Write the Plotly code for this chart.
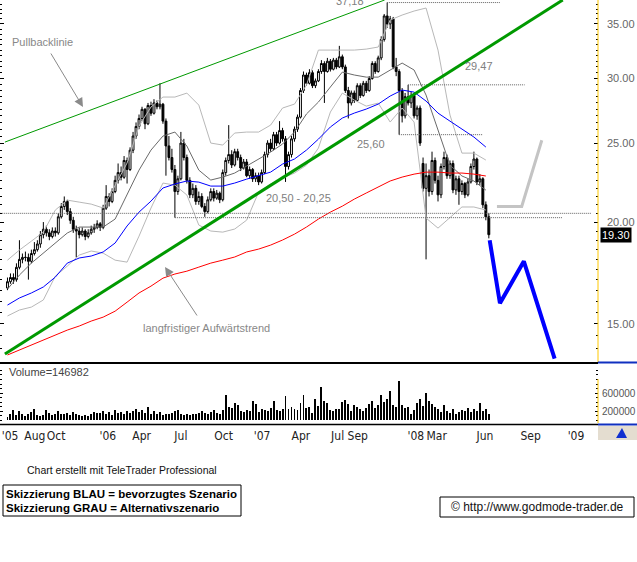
import math
import pandas as pd
import plotly.graph_objects as go

# ---------------- data ----------------
week_start = "2005-05-13"   # weekly candles
opens = [16.6,16.9,17.1,17.0,17.6,18.0,18.1,18.1,17.9,18.3,
         18.5,18.8,19.3,19.6,19.4,19.2,19.5,19.4,20.3,20.9,
         21.2,20.6,20.1,19.6,19.5,19.3,19.5,19.2,19.4,19.6,
         19.7,19.9,19.7,20.8,21.5,21.2,21.8,22.5,23.0,22.7,
         23.8,23.2,24.5,25.5,26.2,26.8,27.5,26.4,27.8,27.2,
         28.0,27.7,27.9,26.6,24.8,24.0,23.2,21.8,22.6,25.0,
         24.0,22.5,21.6,22.0,21.2,21.5,20.9,20.6,21.3,21.8,
         21.4,21.7,21.3,23.0,23.8,24.2,23.5,24.4,24.0,23.3,
         23.7,22.8,23.2,22.6,22.8,22.4,23.0,24.2,25.0,24.6,
         25.6,25.0,25.9,25.3,23.4,24.2,25.3,26.0,26.9,29.0,
         30.3,29.6,30.5,29.4,29.8,30.6,31.3,30.6,31.5,30.8,
         31.6,31.0,31.9,31.0,29.0,28.0,28.8,28.2,29.4,28.6,
         29.6,29.0,30.0,31.3,30.6,31.8,33.5,35.8,35.0,35.5,
         31.0,30.6,29.0,27.0,28.5,28.0,28.6,27.0,27.6,23.6,
         22.0,22.8,21.8,23.8,22.5,21.6,23.4,24.0,22.8,23.6,
         21.9,22.6,21.8,22.3,21.6,22.4,23.4,23.9,22.4,22.6,
         21.0,20.3]
highs = [17.1,17.3,17.3,17.8,19.0,18.3,18.4,18.3,18.5,18.9,
         19.0,19.5,20.0,19.8,19.6,19.7,19.7,20.5,21.1,21.5,
         21.3,20.8,20.3,19.8,19.7,19.7,19.6,19.6,19.8,19.9,
         20.1,20.0,21.0,22.2,21.7,22.0,22.8,23.6,23.4,24.1,
         24.0,24.7,25.8,26.5,27.1,27.7,27.6,28.0,28.1,28.3,
         28.2,29.6,28.0,26.8,25.5,24.6,23.5,22.8,25.8,25.3,
         24.2,22.7,22.3,22.2,21.8,21.7,21.1,21.5,22.0,22.0,
         21.9,21.8,23.2,24.0,26.3,24.5,24.6,24.6,24.2,23.9,
         23.9,23.4,23.3,23.0,23.0,23.2,24.4,25.2,25.3,25.8,
         25.8,26.6,26.1,25.5,24.4,25.5,26.2,27.1,29.2,30.6,
         30.5,30.8,30.7,30.0,30.8,31.6,31.5,31.8,31.7,31.8,
         31.8,32.9,32.1,31.2,29.3,29.0,29.0,29.6,29.6,29.8,
         29.8,30.2,31.5,31.5,32.0,33.8,36.0,37.18,35.8,35.7,
         31.8,30.8,29.2,28.8,29.47,28.9,28.8,27.8,27.8,24.0,
         23.6,23.2,24.4,24.0,22.8,23.6,24.4,24.2,23.8,23.8,
         22.8,22.8,22.5,22.4,22.6,23.6,24.4,24.0,22.9,22.7,
         21.2,20.5]
lows = [16.5,16.8,16.8,16.9,17.5,17.8,17.9,17.0,17.8,18.2,
        18.4,18.6,19.1,19.2,19.0,19.1,19.2,19.3,20.2,20.7,
        20.4,19.9,19.4,18.1,19.1,19.2,19.0,19.1,19.3,19.4,
        19.6,19.5,19.6,20.7,20.9,21.1,21.7,22.3,22.5,22.6,
        22.3,23.1,24.3,25.3,26.0,26.6,26.0,26.3,27.0,27.1,
        27.5,27.5,26.4,22.8,23.8,23.0,20.25,21.6,22.5,23.8,
        22.3,21.4,21.4,21.0,21.0,20.8,20.3,20.5,21.2,21.2,
        21.3,21.1,21.2,22.8,23.6,23.3,23.4,23.8,23.1,23.2,
        22.7,22.6,22.4,22.4,22.2,22.3,22.9,24.0,24.4,24.5,
        24.8,24.9,25.1,22.4,23.2,24.0,25.1,25.8,26.8,28.8,
        29.4,29.5,29.2,29.2,29.7,30.4,28.0,30.5,30.6,30.7,
        30.8,30.9,30.8,28.8,26.8,27.8,28.0,28.1,28.4,28.5,
        28.8,28.9,29.9,30.4,30.5,31.6,33.3,34.6,34.5,30.8,
        30.2,25.6,26.5,26.8,27.8,27.6,26.8,26.7,24.8,21.8,
        18.0,21.5,21.6,22.3,21.2,21.4,23.2,22.6,22.6,21.7,
        21.6,21.0,21.6,21.4,21.5,22.3,23.2,22.2,22.2,20.8,
        20.1,19.1]
closes = [16.9,17.1,17.0,17.6,18.0,18.1,18.1,17.9,18.3,18.5,
          18.8,19.3,19.6,19.4,19.2,19.5,19.4,20.3,20.9,21.2,
          20.6,20.1,19.6,19.5,19.3,19.5,19.2,19.4,19.6,19.7,
          19.9,19.7,20.8,21.5,21.2,21.8,22.5,23.0,22.7,23.8,
          23.2,24.5,25.5,26.2,26.8,27.5,26.4,27.8,27.2,28.0,
          27.7,27.9,26.6,24.8,24.0,23.2,21.8,22.6,25.0,24.0,
          22.5,21.6,22.0,21.2,21.5,20.9,20.6,21.3,21.8,21.4,
          21.7,21.3,23.0,23.8,24.2,23.5,24.4,24.0,23.3,23.7,
          22.8,23.2,22.6,22.8,22.4,23.0,24.2,25.0,24.6,25.6,
          25.0,25.9,25.3,23.4,24.2,25.3,26.0,26.9,29.0,30.3,
          29.6,30.5,29.4,29.8,30.6,31.3,30.6,31.5,30.8,31.6,
          31.0,31.9,31.0,29.0,28.0,28.8,28.2,29.4,28.6,29.6,
          29.0,30.0,31.3,30.6,31.8,33.5,35.8,35.0,35.5,31.0,
          30.6,29.0,27.0,28.5,28.0,28.6,27.0,27.6,25.0,22.0,
          22.8,21.8,23.8,22.5,21.6,23.4,24.0,22.8,23.6,21.9,
          22.6,21.8,22.3,21.6,22.4,23.4,23.9,22.4,22.6,21.0,
          20.3,19.30]
volumes = [70000,150000,230000,110000,200000,140000,90000,130000,180000,260000,
           120000,100000,110000,220000,160000,120000,150000,210000,130000,140000,
           170000,110000,190000,150000,120000,100000,110000,90000,140000,190000,
           170000,160000,200000,150000,180000,120000,220000,160000,190000,150000,
           210000,170000,200000,260000,180000,230000,160000,290000,150000,200000,
           140000,180000,120000,130000,140000,170000,200000,230000,150000,120000,
           140000,110000,130000,150000,170000,210000,160000,140000,180000,220000,
           160000,150000,230000,570000,300000,280000,380000,340000,200000,190000,
           230000,210000,420000,350000,190000,250000,220000,200000,270000,420000,
           230000,200000,250000,540000,240000,300000,260000,220000,380000,570000,
           280000,300000,160000,460000,310000,730000,430000,380000,230000,210000,
           240000,260000,400000,450000,370000,200000,330000,290000,240000,200000,
           280000,360000,420000,270000,330000,560000,400000,460000,650000,330000,
           300000,870000,340000,280000,300000,150000,220000,380000,480000,320000,
           610000,430000,350000,300000,240000,190000,330000,200000,170000,260000,
           150000,190000,230000,200000,280000,180000,260000,210000,380000,200000,
           250000,146982]

# indicators, sampled every 4th week
ind_step = 4
bb_upper = [17.96,18.48,18.95,19.44,20.69,21.28,21.16,21.04,20.81,22.14,23.63,26.23,27.68,28.47,
            28.47,28.79,27.83,25.00,24.86,25.72,25.79,25.79,26.30,27.60,27.91,29.45,32.51,32.51,
            32.51,32.51,32.60,32.79,35.39,35.89,36.30,36.61,32.51,27.06,24.30,24.30,23.83]
bb_middle = [16.55,17.22,17.81,18.32,18.85,19.39,19.72,19.72,19.72,20.17,21.59,23.16,24.51,25.50,
             25.79,24.79,23.16,22.52,22.71,22.97,23.43,23.90,24.37,24.93,25.79,27.14,28.07,29.29,
             30.55,30.30,30.12,30.12,30.73,31.34,30.73,28.63,25.94,23.49,22.78,22.46,21.89]
bb_lower = [15.34,15.60,15.73,16.05,17.17,17.66,18.22,18.43,18.32,17.96,17.86,19.22,20.81,22.33,
            22.20,21.59,19.83,19.50,19.44,19.61,20.11,21.77,22.27,22.65,22.97,23.49,24.65,27.29,
            28.79,28.23,27.75,27.99,26.53,27.60,26.53,20.23,19.66,20.23,20.87,20.87,20.69]
ma_blue = [15.82,16.14,16.37,16.65,17.12,17.81,18.07,18.17,18.38,18.85,19.78,20.57,21.22,22.02,
           22.27,22.46,22.39,22.14,22.14,22.33,22.58,22.78,23.03,23.56,23.90,24.51,25.28,26.16,
           26.83,27.21,27.52,27.91,28.55,29.04,28.87,28.15,27.21,26.60,26.01,25.43,24.72]
ma_red = [13.74,13.93,14.13,14.33,14.54,14.74,14.91,15.12,15.29,15.55,15.95,16.37,16.69,17.07,
          17.27,17.41,17.61,17.81,17.96,18.12,18.38,18.53,18.74,19.01,19.33,19.72,20.17,20.57,
          20.92,21.34,21.71,22.08,22.46,22.71,22.90,23.03,23.03,22.97,22.97,22.90,22.78]

# drawn lines
trend_long_dates = ["2005-05-07", "2008-12-03"]
trend_long_values = [13.78, 37.45]
pullback_dates = ["2005-05-07", "2007-10-13"]
pullback_values = [25.07, 37.45]

level_values = [37.18, 29.47, 25.60, 20.50, 20.25]
level_starts = ["2007-10-19", "2007-12-07", "2007-11-16", "2005-04-25", "2006-06-09"]
level_ends = ["2008-07-09", "2008-09-05", "2008-05-30", "2009-02-09", "2008-12-03"]

scen_blue_dates = ["2008-06-15", "2008-07-09", "2008-09-03", "2008-11-14"]
scen_blue_values = [19.0, 15.9, 17.9, 13.6]
scen_gray_dates = ["2008-07-02", "2008-08-29", "2008-10-15"]
scen_gray_values = [20.9, 20.9, 25.2]

xtick_dates = ["2005-05-19", "2005-07-16", "2005-09-04", "2006-01-03", "2006-03-23", "2006-06-23",
               "2006-10-01", "2006-12-30", "2007-03-31", "2007-06-25", "2007-08-11", "2007-12-25",
               "2008-02-12", "2008-06-04", "2008-09-19", "2009-01-03"]
xtick_labels = ["'05", "Aug", "Oct", "'06", "Apr", "Jul", "Oct", "'07", "Apr", "Jul", "Sep",
                "'08", "Mar", "Jun", "Sep", "'09"]
price_ticks = [15, 20, 25, 30, 35]
vol_ticks = [200000, 600000]

# ---------------- layout helpers ----------------
W, H = 637, 562
PW = 598  # plot width (right axis area outside)


def px(x):
    return x / PW


def py(y):
    return 1 - y / H


dates = pd.date_range(week_start, periods=len(closes), freq="7D")
ind_dates = dates[::ind_step]
FONT = "Liberation Sans, Arial, sans-serif"
NARROW = "Liberation Sans Narrow, DejaVu Sans Condensed, Arial Narrow, sans-serif"

fig = go.Figure()


def line(xs, ys, color, width=1, dash=None, axis=("x", "y")):
    fig.add_trace(go.Scatter(x=xs, y=ys, mode="lines", xaxis=axis[0], yaxis=axis[1],
                             line=dict(color=color, width=width, dash=dash),
                             hoverinfo="skip", showlegend=False))


line(ind_dates, bb_upper, "#b8b8b8")
line(ind_dates, bb_lower, "#b8b8b8")
line(ind_dates, bb_middle, "#6a6a6a")
line(ind_dates, ma_red, "#ff0000")
line(ind_dates, ma_blue, "#0000ff")

for v, s, e in zip(level_values, level_starts, level_ends):
    line([s, e], [v, v], "#606060", 1, "1px,1px")

fig.add_trace(go.Candlestick(
    x=dates, open=opens, high=highs, low=lows, close=closes,
    increasing=dict(line=dict(color="black", width=1), fillcolor="white"),
    decreasing=dict(line=dict(color="black", width=1), fillcolor="black"),
    whiskerwidth=0, xaxis="x", yaxis="y", showlegend=False, hoverinfo="skip"))

line(pullback_dates, pullback_values, "#009900", 1)
line(trend_long_dates, trend_long_values, "#009900", 3)
line(scen_gray_dates, scen_gray_values, "#c4c4c4", 3)
line(scen_blue_dates, scen_blue_values, "#0000ff", 4)

fig.add_trace(go.Bar(x=dates, y=volumes, width=2.2 * 86400000, xaxis="x2", yaxis="y2",
                     marker=dict(color="black", line=dict(width=0)), showlegend=False,
                     hoverinfo="skip"))

minor_price = [v / 2 for v in range(27, 76) if v % 10 != 0]
minor_vol = list(range(0, 1200001, 100000))

x_range = ["2005-04-25 12:00", "2009-02-23 14:00"]

fig.update_layout(
    width=W, height=H, autosize=False,
    margin=dict(l=0, r=W - PW, t=0, b=0),
    paper_bgcolor="white", plot_bgcolor="white",
    showlegend=False, boxgap=0.1, bargap=0,
    font=dict(family=FONT, color="#333"),
    xaxis=dict(domain=[0, 1], anchor="y", type="date", range=x_range, showticklabels=False,
               ticks="", showgrid=False, zeroline=False, rangeslider=dict(visible=False)),
    xaxis2=dict(domain=[0, 1], anchor="y2", type="date", range=x_range, matches="x",
                tickmode="array", tickvals=xtick_dates, ticktext=xtick_labels, tickangle=0,
                ticks="", showgrid=False, zeroline=False, ticklabelstandoff=3,
                tickfont=dict(family=NARROW, size=12, color="#222")),
    yaxis=dict(domain=[py(362), 1], anchor="x", type="log",
               range=[math.log10(13.47), math.log10(37.45)], side="right",
               tickmode="array", tickvals=price_ticks, ticktext=[f"{v:.2f}" for v in price_ticks],
               ticks="inside", ticklen=4, tickcolor="black", mirror="ticks", showline=False,
               showgrid=False, zeroline=False, ticklabelstandoff=8,
               tickfont=dict(family=FONT, size=11, color="#666"),
               minor=dict(tickmode="array", tickvals=minor_price, ticks="inside", ticklen=2,
                          tickcolor="black", showgrid=False)),
    yaxis2=dict(domain=[py(424), py(365)], anchor="x2", range=[-80000, 1220000], side="right",
                tickmode="array", tickvals=vol_ticks, ticktext=[str(v) for v in vol_ticks],
                ticks="inside", ticklen=3, tickcolor="black", mirror="ticks", showline=False,
                showgrid=False, zeroline=False, ticklabelstandoff=3,
                tickfont=dict(family=FONT, size=10, color="#555"),
                minor=dict(tickmode="array", tickvals=minor_vol, ticks="inside", ticklen=2,
                           tickcolor="black", showgrid=False)),
)

shapes = [
    # yellow axis lines
    dict(type="line", xref="paper", yref="paper", x0=1, x1=1, y0=py(362), y1=1,
         line=dict(color="#ffc800", width=1)),
    dict(type="line", xref="paper", yref="paper", x0=1, x1=1, y0=py(423), y1=py(379),
         line=dict(color="#ffc800", width=1)),
    # panel separators
    dict(type="line", xref="paper", yref="paper", x0=0, x1=1, y0=py(363), y1=py(363),
         line=dict(color="black", width=2)),
    dict(type="line", xref="paper", yref="paper", x0=1, x1=W / PW, y0=py(362.5), y1=py(362.5),
         line=dict(color="#1030c0", width=2)),
    dict(type="line", xref="paper", yref="paper", x0=0, x1=1, y0=py(424.5), y1=py(424.5),
         line=dict(color="black", width=1.5)),
    dict(type="line", xref="paper", yref="paper", x0=1, x1=W / PW, y0=py(424.5), y1=py(424.5),
         line=dict(color="#1030c0", width=2)),
    # corner icon
    dict(type="rect", xref="paper", yref="paper", x0=1.0, x1=W / PW, y0=py(440), y1=py(426),
         fillcolor="#e4ddd0", line=dict(width=0)),
    dict(type="path", xref="paper", yref="paper",
         path=f"M {px(616)},{py(438)} L {px(622)},{py(428)} L {px(627)},{py(438)} Z",
         fillcolor="#1030d0", line=dict(width=0)),
    # bottom boxes
    dict(type="rect", xref="paper", yref="paper", x0=px(3), x1=px(241), y0=py(516), y1=py(485),
         line=dict(color="black", width=1)),
    dict(type="rect", xref="paper", yref="paper", x0=px(440), x1=px(634), y0=py(517), y1=py(497),
         line=dict(color="black", width=1)),
]
fig.update_layout(shapes=shapes)


def note(text, x, y, size=11, color="#808080", xanchor="center", family=FONT, bold=False):
    fig.add_annotation(text=f"<b>{text}</b>" if bold else text, xref="paper", yref="paper",
                       x=px(x), y=py(y), xanchor=xanchor, yanchor="middle", showarrow=False,
                       font=dict(family=family, size=size, color=color))


note("37,18", 350, 1, 11)
note("29,47", 479, 66, 11)
note("25,60", 371, 144, 11)
note("20,50 - 20,25", 298, 198, 11)
note("Pullbacklinie", 43, 42, 11, "#888888")
note("langfristiger Aufwärtstrend", 206, 328, 11, "#888888")
note(f"Volume={volumes[-1]}", 7, 372, 11, "#444444", xanchor="left")
note("Chart erstellt mit TeleTrader Professional", 122, 470, 10.5, "#111111")
note("Skizzierung BLAU = bevorzugtes Szenario", 4, 494, 11.5, "black", xanchor="left", bold=True)
note("Skizzierung GRAU = Alternativszenario", 4, 508, 11.5, "black", xanchor="left", bold=True)
note("© http://www.godmode-trader.de", 537, 507, 12, "#111111")

for hx, hy, ax, ay in [(83, 107, -33, -55), (165, 267, 33, 50)]:
    fig.add_annotation(text="", xref="paper", yref="paper", x=px(hx), y=py(hy), ax=ax, ay=ay,
                       showarrow=True, arrowhead=2, arrowsize=1.8, arrowwidth=1,
                       arrowcolor="#8a8a8a")

fig.add_annotation(text=f"{closes[-1]:.2f}", xref="paper", yref="y", x=px(600),
                   y=math.log10(closes[-1]), xanchor="left", yanchor="middle", showarrow=False,
                   bgcolor="black", borderpad=1, font=dict(family=FONT, size=11, color="white"))

fig.write_html("out.html", config={"displayModeBar": False},
               post_script="document.body.style.margin='0';document.body.style.overflow='hidden';")
